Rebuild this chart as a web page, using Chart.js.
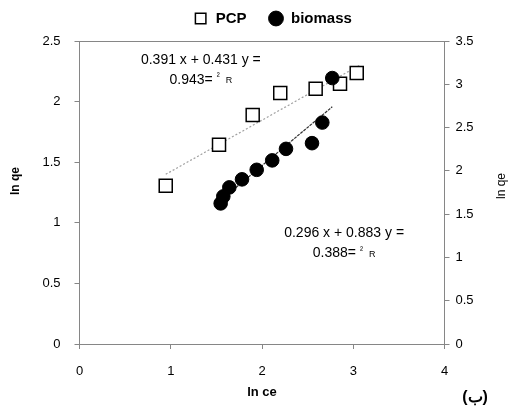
<!DOCTYPE html>
<html>
<head>
<meta charset="utf-8">
<script src="https://cdn.jsdelivr.net/npm/chart.js@4/dist/chart.umd.min.js"></script>
<style>
html,body{margin:0;padding:0;background:#fff;}
#wrap{width:513px;height:412px;}
</style>
</head>
<body>
<div id="wrap"><canvas id="c" width="513" height="412"></canvas></div>
<script>
// ---- data ----
const pcpX = [0.945, 1.529, 1.898, 2.200, 2.588, 2.855, 3.038];
const pcpY = [1.305, 1.643, 1.889, 2.070, 2.106, 2.147, 2.235];
const bioX = [1.547, 1.576, 1.642, 1.781, 1.942, 2.112, 2.263, 2.548, 2.661, 2.770];
const bioY = [1.624, 1.705, 1.809, 1.902, 2.012, 2.121, 2.254, 2.320, 2.558, 3.072];
// trend-line end points
const pcpTrendX = [0.945, 3.07];
const pcpTrendY = [1.40, 2.30];
const bioTrendX = [1.547, 2.77];
const bioTrendY = [1.66, 2.74];
const seriesNames = ['PCP', 'biomass'];
const xTicks = [0, 1, 2, 3, 4];
const yLeftTicks = [0, 0.5, 1, 1.5, 2, 2.5];
const yRightTicks = [0, 0.5, 1, 1.5, 2, 2.5, 3, 3.5];
const eq1 = ['0.391 x + 0.431 y =', '0.943=', '²', 'R'];
const eq2 = ['0.296 x + 0.883 y =', '0.388=', '²', 'R'];
const axisTitleX = 'ln ce';
const axisTitleY = 'ln qe';
const panelLabel = '(ب)';

const pts = (xs, ys) => xs.map((x, i) => ({x: x, y: ys[i]}));
const FONT = "'Liberation Sans', Arial, sans-serif";
const AX = '#868686';
const fmt = v => String(v);

const extras = {
  id: 'extras',
  beforeInit(chart) {
    if (chart.legend) {
      const f = chart.legend.fit;
      chart.legend.fit = function() { f.call(this); this.height = 41; };
    }
  },
  afterLayout(chart) {
    const lg = chart.legend;
    if (lg) { lg.left += 16; lg.right += 16; lg.top -= 11; lg.bottom -= 11; }
  },
  afterDatasetsDraw(chart) {
    const ctx = chart.ctx, a = chart.chartArea;
    const sx = chart.scales.x, sy = chart.scales.y;
    ctx.save();
    // top border of plot box
    ctx.strokeStyle = AX; ctx.lineWidth = 1;
    ctx.beginPath(); ctx.moveTo(a.left, a.top + 0.5); ctx.lineTo(a.right, a.top + 0.5); ctx.stroke();
    ctx.fillStyle = '#000';
    ctx.textBaseline = 'middle';
    function eq(lines, cx, y1, y2) {
      ctx.font = '14px ' + FONT; ctx.textAlign = 'center';
      ctx.fillText(lines[0], sx.getPixelForValue(cx), sy.getPixelForValue(y1));
      const px = sx.getPixelForValue(cx), py = sy.getPixelForValue(y2);
      ctx.font = '14px ' + FONT;
      const w0 = ctx.measureText(lines[1]).width;
      ctx.font = '9px ' + FONT;
      const w1 = ctx.measureText(lines[2]).width, w2 = ctx.measureText(lines[3]).width;
      const tot = w0 + 4 + w1 + 6 + w2;
      let x = px - tot / 2;
      ctx.textAlign = 'left';
      ctx.font = '14px ' + FONT; ctx.fillText(lines[1], x, py); x += w0 + 4;
      ctx.font = '9px ' + FONT; ctx.fillText(lines[2], x, py - 3); x += w1 + 6;
      ctx.fillText(lines[3], x, py + 1);
    }
    eq(eq1, 1.33, 2.345, 2.18);
    eq(eq2, 2.90, 0.917, 0.75);
    // axis titles (both read bottom-to-top)
    ctx.textAlign = 'center';
    ctx.save(); ctx.translate(16, 181); ctx.rotate(-Math.PI / 2);
    ctx.font = 'bold 12px ' + FONT; ctx.fillText(axisTitleY, 0, 0); ctx.restore();
    ctx.save(); ctx.translate(502, 186); ctx.rotate(-Math.PI / 2);
    ctx.font = '12px ' + FONT; ctx.fillText(axisTitleY, 0, 0); ctx.restore();
    ctx.font = 'bold 16px ' + FONT; ctx.textAlign = 'center';
    ctx.fillText(panelLabel, 475, 398);
    ctx.restore();
  }
};

new Chart(document.getElementById('c'), {
  type: 'scatter',
  data: {
    datasets: [
      {label: seriesNames[0], data: pts(pcpX, pcpY), yAxisID: 'y',
       pointStyle: 'rect', pointRadius: 9.2, pointHoverRadius: 9.2,
       backgroundColor: '#fff', borderColor: '#000', borderWidth: 1.5, order: 1},
      {label: seriesNames[1], data: pts(bioX, bioY), yAxisID: 'y2',
       pointStyle: 'circle', pointRadius: 6.8, pointHoverRadius: 6.8,
       backgroundColor: '#000', borderColor: '#000', borderWidth: 1, order: 0},
      {label: 'trend1', data: pts(pcpTrendX, pcpTrendY), yAxisID: 'y', showLine: true,
       pointRadius: 0, borderColor: '#a0a0a0', borderWidth: 1.2, borderDash: [2, 2], order: 3},
      {label: 'trend2', data: pts(bioTrendX, bioTrendY), yAxisID: 'y2', showLine: true,
       pointRadius: 0, borderColor: '#333', borderWidth: 1.2, borderDash: [3, 1], order: 2}
    ]
  },
  options: {
    responsive: false, animation: false,
    layout: {padding: {left: 0, right: 0, top: 0, bottom: 0}},
    plugins: {
      tooltip: {enabled: false},
      legend: {
        position: 'top',
        labels: {
          usePointStyle: true, boxHeight: 10.5, padding: 22,
          color: '#000', font: {family: FONT, size: 15, weight: 'bold'},
          filter: (item) => item.datasetIndex < 2,
          sort: (a, b) => a.datasetIndex - b.datasetIndex
        }
      }
    },
    scales: {
      x: {
        type: 'linear', min: 0, max: 4,
        afterFit: s => { s.height = 68; },
        afterBuildTicks: s => { s.ticks = xTicks.map(v => ({value: v})); },
        border: {display: true, color: AX, width: 1},
        grid: {display: true, drawOnChartArea: false, drawTicks: true, tickLength: 5, color: AX},
        ticks: {color: '#000', font: {family: FONT, size: 13}, padding: 15, maxRotation: 0, callback: fmt},
        title: {display: true, text: axisTitleX, color: '#000', font: {family: FONT, size: 13, weight: 'bold'}, padding: {top: 0, bottom: 12}}
      },
      y: {
        type: 'linear', position: 'left', min: 0, max: 2.5,
        afterFit: s => { s.width = 79.5; },
        afterBuildTicks: s => { s.ticks = yLeftTicks.map(v => ({value: v})); },
        border: {display: true, color: AX, width: 1},
        grid: {display: true, drawOnChartArea: false, drawTicks: true, tickLength: 5, color: AX},
        ticks: {color: '#000', font: {family: FONT, size: 13}, padding: 14, callback: fmt}
      },
      y2: {
        type: 'linear', position: 'right', min: 0, max: 3.5,
        afterFit: s => { s.width = 68.5; },
        afterBuildTicks: s => { s.ticks = yRightTicks.map(v => ({value: v})); },
        border: {display: true, color: AX, width: 1},
        grid: {display: true, drawOnChartArea: false, drawTicks: true, tickLength: 5, color: AX},
        ticks: {color: '#000', font: {family: FONT, size: 13}, padding: 6, callback: fmt}
      }
    }
  },
  plugins: [extras]
});
</script>
</body>
</html>
